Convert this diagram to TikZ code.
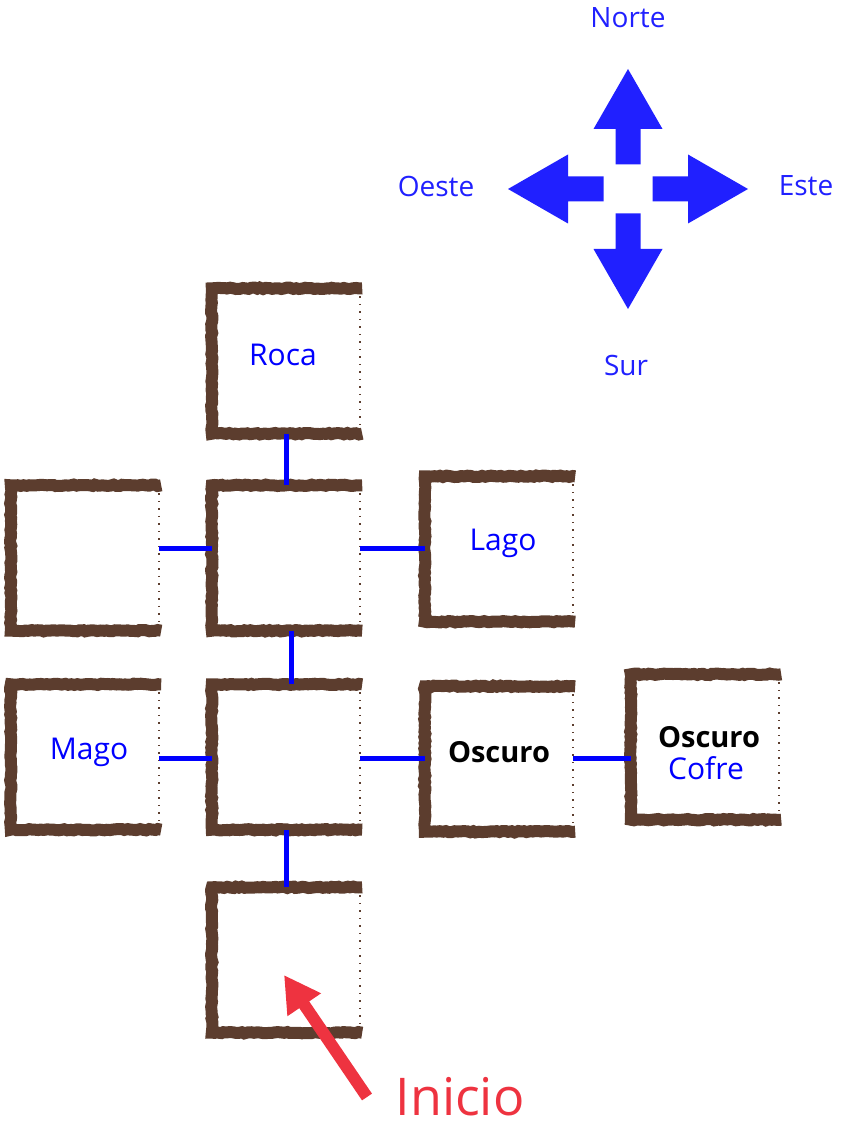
\documentclass[tikz,border=0pt]{standalone}
\usepackage{fontspec}
\setmainfont{Open Sans}
\usetikzlibrary{decorations.pathmorphing,arrows.meta,calc}
\definecolor{boxbrown}{HTML}{5C3D2E}
\definecolor{linkblue}{HTML}{0000FF}
\definecolor{compassblue}{HTML}{2020FF}
\definecolor{startred}{HTML}{EE3340}
\begin{document}
\begin{tikzpicture}[x=1pt,y=-1pt,
  room/.style={draw=none,minimum width=148pt,minimum height=145pt,inner sep=0pt},
  roughedge/.style={draw=boxbrown,line width=12pt,line join=miter,
    decorate,decoration={random steps,segment length=3pt,amplitude=0.7pt}},
  speckedge/.style={draw=boxbrown,line width=2pt,dash pattern=on 1.5pt off 6pt},
  link/.style={draw=linkblue,line width=5pt},
  lbl/.style={font=\fontsize{30}{34}\selectfont,text=linkblue,inner sep=0pt},
  dirlbl/.style={font=\fontsize{28}{32}\selectfont,text=compassblue,inner sep=0pt},
  darklbl/.style={font=\fontsize{29}{33}\selectfont\bfseries,text=black,inner sep=0pt}
]
\useasboundingbox (0,0) rectangle (846,1131);
\pgfmathsetseed{7}
% rooms
\node[room] (roca) at (286,361) {};
\node[room] (west) at (85,558) {};
\node[room] (cen2) at (286,558) {};
\node[room] (lago) at (499,549) {};
\node[room] (mago) at (85,757) {};
\node[room] (cen3) at (286,757) {};
\node[room] (oscuro) at (499,759) {};
\node[room] (cofre) at (705,747) {};
\node[room] (start) at (286,960) {};
\foreach \r in {roca,west,cen2,lago,mago,cen3,oscuro,cofre,start}{
  \draw[roughedge] ([xshift=2pt]\r.north east) -- (\r.north west) -- (\r.south west) -- ([xshift=2pt]\r.south east);
  \draw[speckedge] ([yshift=-8pt]\r.north east) -- ([yshift=8pt]\r.south east);
}
% connectors
\draw[link] (roca.south) -- (cen2.north);
\draw[link] ([yshift=10pt]west.east) -- ([yshift=10pt]cen2.west);
\draw[link] ([yshift=10pt]cen2.east) -- ([yshift=1pt]lago.west);
\draw[link] ([xshift=5pt]cen2.south) -- ([xshift=5pt]cen3.north);
\draw[link] ([yshift=-1pt]mago.east) -- ([yshift=-1pt]cen3.west);
\draw[link] ([yshift=-1pt]cen3.east) -- ([yshift=1pt]oscuro.west);
\draw[link] ([yshift=1pt]oscuro.east) -- ([yshift=-11pt]cofre.west);
\draw[link] (cen3.south) -- (start.north);
% labels
\node[lbl] (troca) at (283,355) {Roca};
\node[lbl] (tlago) at (503,543) {Lago};
\node[lbl] (tmago) at (89,752) {Mago};
\node[darklbl] (tosc) at (499,752) {Oscuro};
\node[darklbl] (tosc2) at (709,737) {Oscuro};
\node[lbl] (tcofre) at (706,768) {Cofre};
% compass
\coordinate (cmp) at (628,189);
\foreach \a in {0,90,180,270}{
  \fill[compassblue,shift={(cmp)},rotate=\a]
    (-12.5,-24.5) -- (-12.5,-60) -- (-34.5,-60) -- (0,-120) -- (34.5,-60) -- (12.5,-60) -- (12.5,-24.5) -- cycle;
}
\node[dirlbl] (norte) at (628,18) {Norte};
\node[dirlbl] (oeste) at (436,186) {Oeste};
\node[dirlbl] (este) at (806,186) {Este};
\node[dirlbl] (sur) at (626,365) {Sur};
% start marker
\node[font=\fontsize{52}{58}\selectfont,text=startred,inner sep=0pt] (inicio) at (460,1097) {Inicio};
\coordinate (arrowtail) at (367,1097);
\coordinate (arrowtip) at (284,975);
\draw[startred,line width=12pt,-{Triangle[length=36pt,width=38pt]}] (arrowtail) -- (arrowtip);
\end{tikzpicture}
\end{document}
